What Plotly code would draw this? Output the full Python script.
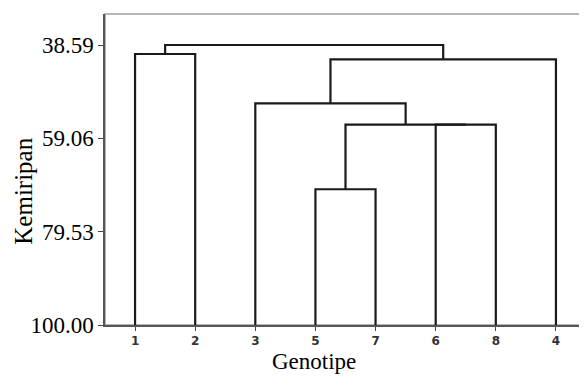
import plotly.graph_objects as go

# Leaf order along the x axis
genotypes = ["1", "2", "3", "5", "7", "6", "8", "4"]

# Merges: children (leaf index 0-7, or merge id 8+) and similarity level
merge_left = [3, 5, 8, 2, 0, 11, 12]
merge_right = [4, 6, 9, 10, 1, 7, 13]
merge_sim = [70.23, 56.07, 56.07, 51.38, 40.56, 41.73, 38.59]

y_ticks = [38.59, 59.06, 79.53, 100.00]

n = len(genotypes)
pos = {i: float(i) for i in range(n)}
height = {i: 100.0 for i in range(n)}
xs, ys = [], []
for k, (a, b, s) in enumerate(zip(merge_left, merge_right, merge_sim)):
    cid = n + k
    xa, xb = pos[a], pos[b]
    xs += [xa, xa, xb, xb, None]
    ys += [height[a], s, s, height[b], None]
    pos[cid] = (xa + xb) / 2
    height[cid] = s

fig = go.Figure()
fig.add_trace(go.Scatter(x=xs, y=ys, mode="lines",
                         line=dict(color="#1a1a1a", width=2.2),
                         hoverinfo="skip", showlegend=False))

# light frame around plot area
fig.add_shape(type="rect", xref="paper", yref="paper", x0=0, y0=0, x1=1, y1=1,
              line=dict(color="#a0a0a0", width=1.5), layer="below")

OFF = 8  # page body margin
W, H = 587 - OFF, 377 - OFF
L, R, T, B = 105 - OFF, 1, 14 - OFF, 52
pw, ph = W - L - R, H - T - B

def px_x(x):
    return (x - OFF - L) / pw

def px_y(y):
    return (H - B - (y - OFF)) / ph

fig.add_annotation(text="Kemiripan", xref="paper", yref="paper",
                   x=px_x(24), y=px_y(191.7), textangle=-90,
                   showarrow=False, xanchor="center", yanchor="middle",
                   font=dict(family="Liberation Serif", size=25, color="black"))
fig.add_annotation(text="Genotipe", xref="paper", yref="paper",
                   x=px_x(314.2), y=px_y(361), showarrow=False,
                   xanchor="center", yanchor="middle",
                   font=dict(family="Liberation Serif", size=23, color="black"))

fig.update_layout(
    width=W, height=H,
    margin=dict(l=L, r=R, t=T, b=B),
    paper_bgcolor="white", plot_bgcolor="white",
    font=dict(family="Liberation Serif", color="black"),
    xaxis=dict(
        range=[-0.5, 7.5], automargin=False,
        tickvals=list(range(n)), ticktext=genotypes,
        tickfont=dict(family="DejaVu Sans", size=12, color="#333333", weight="bold"),
        ticks="outside", ticklen=4, tickcolor="#444444",
        showline=True, linecolor="#555555", linewidth=1.5,
        showgrid=False, zeroline=False,
    ),
    yaxis=dict(
        range=[100, 31.79], automargin=False,
        tickvals=y_ticks, ticktext=[f"{v:.2f}" for v in y_ticks],
        tickfont=dict(family="Liberation Serif", size=23, color="black"),
        ticks="outside", ticklen=5, tickcolor="#444444",
        showline=True, linecolor="#555555", linewidth=1.5,
        showgrid=False, zeroline=False,
    ),
)

fig.write_html("out.html")
